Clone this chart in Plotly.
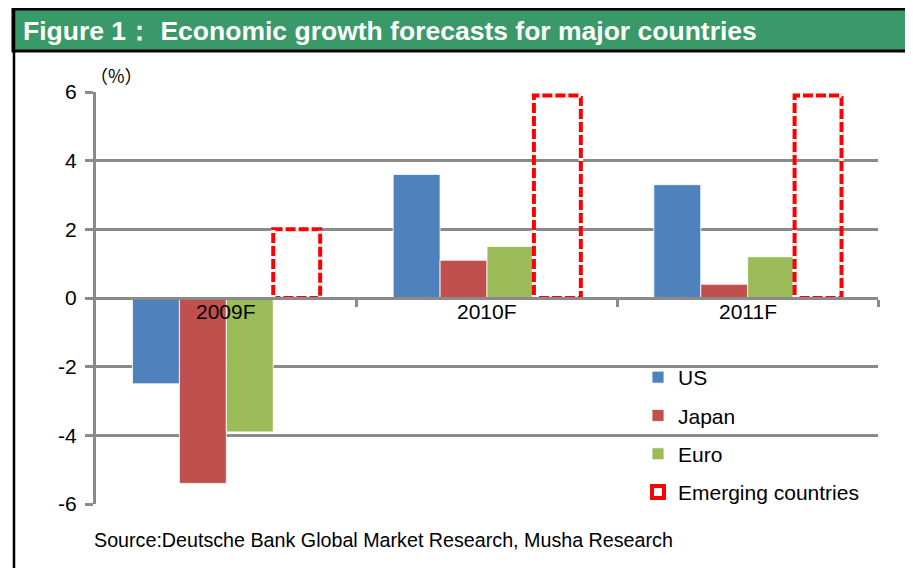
import plotly.graph_objects as go

# ---- data ----
categories = ["2009F", "2010F", "2011F"]
us = [-2.5, 3.6, 3.3]
japan = [-5.4, 1.1, 0.4]
euro = [-3.9, 1.5, 1.2]
emerging = [2.0, 5.9, 5.9]
y_ticks = [-6, -4, -2, 0, 2, 4, 6]
y_tick_labels = ["-6", "-4", "-2", "0", "2", "4", "6"]

title_text = "Figure 1\uff1a Economic growth forecasts for major countries"
source_text = "Source:Deutsche Bank Global Market Research, Musha Research"

# ---- layout geometry (page pixels; page body has an 8px margin) ----
OFF = 8
PAGE_W, PAGE_H = 913, 568
W, H = PAGE_W - OFF, PAGE_H - OFF
PL, PR, PT, PB = 96, 878, 92, 504        # plot area in page pixels
PW, PH = PR - PL, PB - PT
L, T = PL - OFF, PT - OFF
R, B = W - (PR - OFF), H - (PB - OFF)
def px(x):
    return (x - PL) / PW
def py(y):
    return (PB - y) / PH

FONT = "Liberation Sans, Arial, sans-serif"
GRID = "#8a8a8a"
BARGAP = 0.28
series = [("US", us, "#4f81bd"), ("Japan", japan, "#c0504d"),
          ("Euro", euro, "#9bbb59")]
n_traces = len(series) + 1
bw = (1 - BARGAP) / n_traces

xs = list(range(len(categories)))
fig = go.Figure()
for i, (name, vals, col) in enumerate(series):
    fig.add_trace(go.Bar(
        x=xs, y=vals, name=name, legendgroup=name,
        marker=dict(color=col, line=dict(color="rgba(255,255,255,0.8)", width=1)),
    ))
fig.add_trace(go.Bar(
    x=xs, y=emerging, name="Emerging countries", legendgroup="em",
    marker=dict(color="rgba(255,255,255,0)", line=dict(color="#ff0000", width=4)),
))

# white dashes over the red outline to make it dashed
ox, oy = [], []
for i, v in zip(xs, emerging):
    left = i - (1 - BARGAP) / 2 + (n_traces - 1) * bw
    right = left + bw
    ox += [left, left, right, right, left, None]
    oy += [0, v, v, 0, 0, None]
fig.add_trace(go.Scatter(
    x=ox, y=oy, xaxis="x2", mode="lines", showlegend=False, hoverinfo="skip",
    line=dict(color="white", width=4.5, dash="3px,10px"),
))

fig.update_layout(
    width=W, height=H,
    margin=dict(l=L, r=R, t=T, b=B, autoexpand=False),
    paper_bgcolor="white", plot_bgcolor="white",
    barmode="group", bargap=BARGAP, bargroupgap=0,
    font=dict(family=FONT, color="black", size=21),
    showlegend=True,
    legend=dict(
        x=px(638), y=py(357), xanchor="left", yanchor="top",
        bgcolor="rgba(0,0,0,0)", traceorder="grouped", tracegroupgap=8,
        font=dict(family=FONT, size=21, color="black"),
        itemclick=False,
    ),
    xaxis=dict(
        range=[-0.5, len(categories) - 0.5], showgrid=False, showline=False,
        showticklabels=False, ticks="", zeroline=False, fixedrange=True,
    ),
    xaxis2=dict(
        overlaying="x", anchor="free", position=py(298), side="bottom",
        range=[-0.5, len(categories) - 0.5], showgrid=False, zeroline=False,
        showline=True, linecolor=GRID, linewidth=3,
        showticklabels=False, ticks="",
        minor=dict(tickmode="array", tickvals=[i + 0.5 for i in xs],
                   ticks="outside", ticklen=7, tickwidth=3, tickcolor=GRID),
    ),
    yaxis=dict(
        range=[-6, 6], tickmode="array", tickvals=y_ticks, ticktext=y_tick_labels,
        showgrid=True, gridcolor=GRID, gridwidth=2.5,
        zeroline=False, showline=True, linecolor=GRID, linewidth=3,
        ticks="outside", ticklen=8, tickwidth=2.5, tickcolor=GRID,
        ticklabelstandoff=4,
        tickfont=dict(family=FONT, size=21, color="black"),
    ),
)

# category labels just below the zero line
for i, c in zip(xs, categories):
    fig.add_annotation(text=c, x=i, y=0, xref="x", yref="y",
                       xanchor="center", yanchor="middle", yshift=-13,
                       showarrow=False, font=dict(family=FONT, size=21, color="black"))

# frame + green title band
shapes = [
    dict(type="rect", xref="paper", yref="paper", x0=px(13), x1=px(PAGE_W + 5),
         y0=py(51), y1=py(9), fillcolor="#399969",
         line=dict(color="black", width=3), layer="below"),
    dict(type="line", xref="paper", yref="paper", x0=px(14), x1=px(14),
         y0=py(9), y1=py(PAGE_H + 5), line=dict(color="black", width=2.5)),
]
fig.update_layout(shapes=shapes)

fig.add_annotation(text="<b>" + title_text + "</b>", xref="paper", yref="paper",
                   x=px(21), y=py(31), xanchor="left", yanchor="middle",
                   showarrow=False, font=dict(family=FONT, size=26.5, color="white"))
fig.add_annotation(text="\uff08%\uff09", xref="paper", yref="paper",
                   x=px(88), y=py(75), xanchor="left", yanchor="middle",
                   showarrow=False, font=dict(family="Noto Sans CJK JP", size=18, color="black"))
fig.add_annotation(text=source_text, xref="paper", yref="paper",
                   x=px(92), y=py(540), xanchor="left", yanchor="middle",
                   showarrow=False, font=dict(family=FONT, size=19.7, color="black"))

fig.write_html("out.html")
